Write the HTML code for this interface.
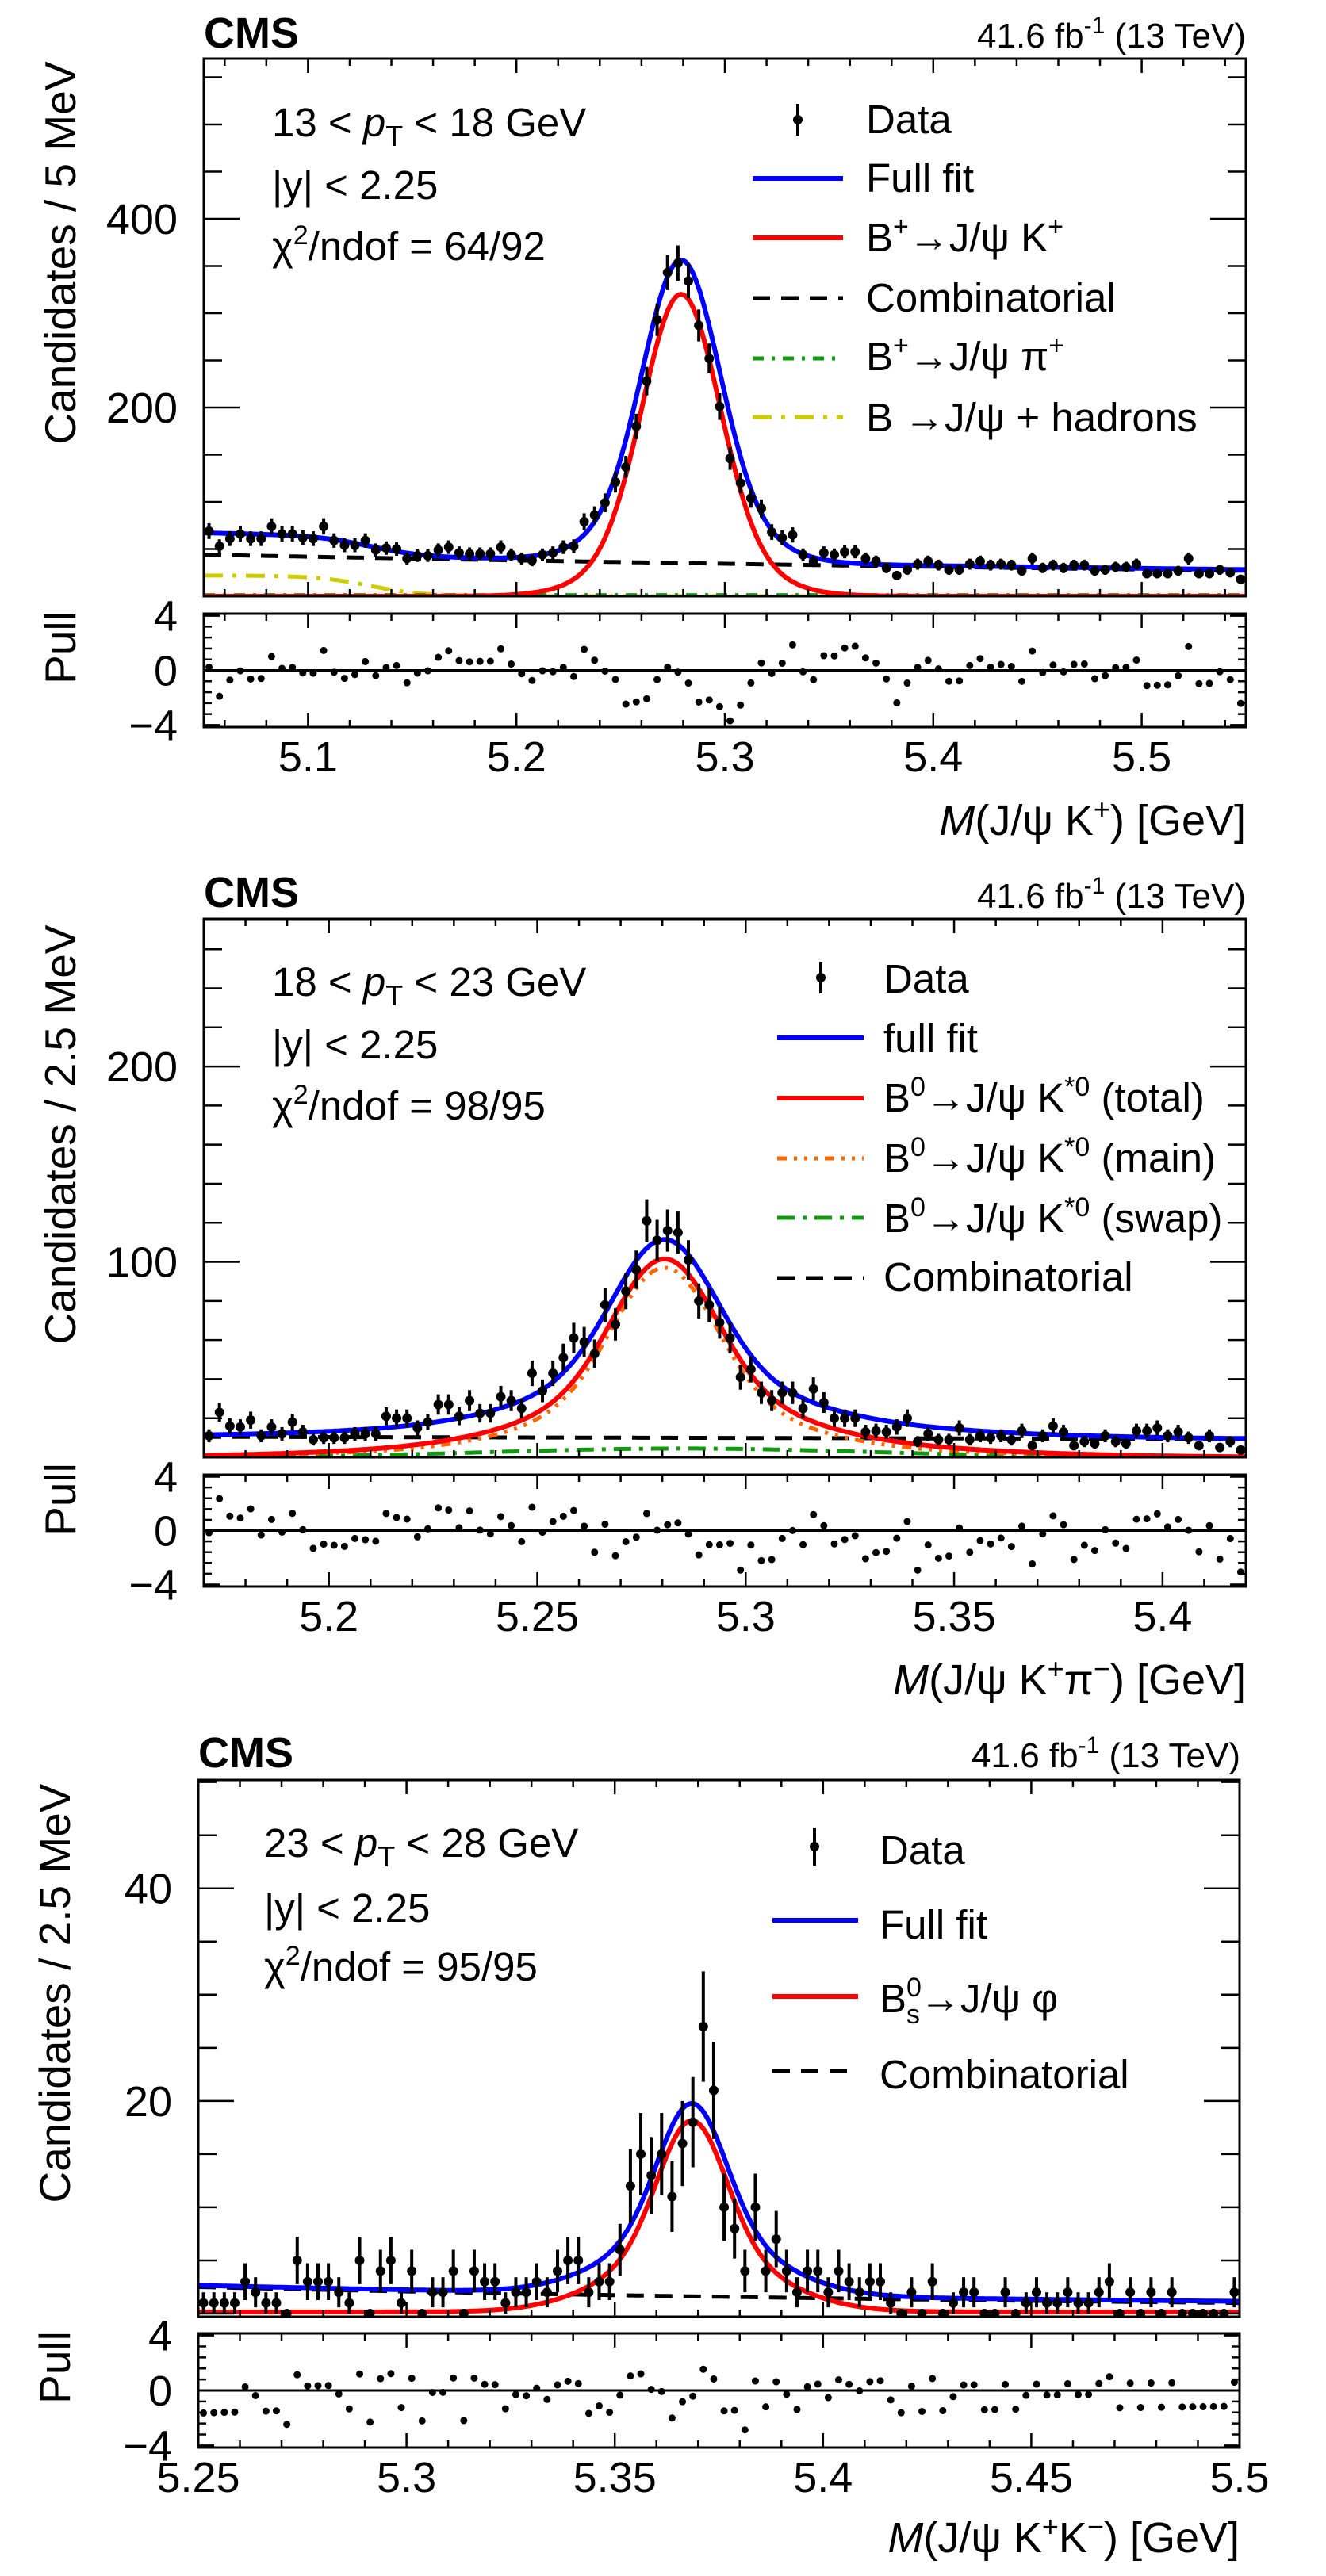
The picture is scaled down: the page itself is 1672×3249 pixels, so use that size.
<!DOCTYPE html>
<html><head><meta charset="utf-8"><title>CMS mass fits</title>
<style>
html,body{margin:0;padding:0;background:#fff;}
svg{display:block;font-family:"Liberation Sans",sans-serif;}
</style></head>
<body>
<svg id="fig" width="1672" height="3249" viewBox="0 0 1672 3249" xmlns="http://www.w3.org/2000/svg">
<rect x="0" y="0" width="1672" height="3249" fill="#fff"/>

<!-- ===== Panel 1 static text ===== -->
<g fill="#000">
  <text x="257" y="60" font-size="54" font-weight="bold">CMS</text>
  <text x="1571" y="60" font-size="44" text-anchor="end">41.6 fb<tspan dy="-18" font-size="30">-1</tspan><tspan dy="18"> (13 TeV)</tspan></text>
  <text x="343" y="172" font-size="51">13 &lt; <tspan font-style="italic">p</tspan><tspan dy="12" font-size="36">T</tspan><tspan dy="-12"> &lt; 18 GeV</tspan></text>
  <text x="343" y="251" font-size="51">|y| &lt; 2.25</text>
  <text x="343" y="328" font-size="51">χ<tspan dy="-20" font-size="34">2</tspan><tspan dy="20">/ndof = 64/92</tspan></text>
  <text transform="translate(95,319) rotate(-90)" font-size="55" text-anchor="middle">Candidates / 5 MeV</text>
  <text transform="translate(95,817) rotate(-90)" font-size="55" text-anchor="middle">Pull</text>
  <text x="1571" y="1053" font-size="54" text-anchor="end"><tspan font-style="italic">M</tspan>(J/ψ K<tspan dy="-20" font-size="36">+</tspan><tspan dy="20">) [GeV]</tspan></text>
  <g>
    <g><line x1="1006" y1="131" x2="1006" y2="171" stroke="#000" stroke-width="4"/><circle cx="1006" cy="151" r="6"/><text x="1092" y="168" font-size="51">Data</text></g>
    <g><line x1="949" y1="225" x2="1063" y2="225" stroke="#0000ff" stroke-width="6"/><text x="1092" y="242" font-size="51">Full fit</text></g>
    <g><line x1="949" y1="300" x2="1063" y2="300" stroke="#ff0000" stroke-width="6"/><text x="1092" y="317" font-size="51">B<tspan dy="-20" font-size="34">+</tspan><tspan dy="20">→J/ψ K</tspan><tspan dy="-20" font-size="34">+</tspan></text></g>
    <g><line x1="949" y1="376" x2="1063" y2="376" stroke="#000" stroke-width="5" stroke-dasharray="22 14"/><text x="1092" y="393" font-size="51">Combinatorial</text></g>
    <g><line x1="949" y1="452" x2="1063" y2="452" stroke="#119911" stroke-width="5" stroke-dasharray="14 10 4 10"/><text x="1092" y="467" font-size="51">B<tspan dy="-20" font-size="34">+</tspan><tspan dy="20">→J/ψ π</tspan><tspan dy="-20" font-size="34">+</tspan></text></g>
    <g><line x1="949" y1="526" x2="1063" y2="526" stroke="#cccc00" stroke-width="5" stroke-dasharray="24 12 5 12"/><text x="1092" y="544" font-size="51">B  →J/ψ + hadrons</text></g>
  </g>
</g>

<!-- ===== Panel 2 static text ===== -->
<g fill="#000">
  <text x="257" y="1144" font-size="54" font-weight="bold">CMS</text>
  <text x="1571" y="1145" font-size="44" text-anchor="end">41.6 fb<tspan dy="-18" font-size="30">-1</tspan><tspan dy="18"> (13 TeV)</tspan></text>
  <text x="343" y="1256" font-size="51">18 &lt; <tspan font-style="italic">p</tspan><tspan dy="12" font-size="36">T</tspan><tspan dy="-12"> &lt; 23 GeV</tspan></text>
  <text x="343" y="1335" font-size="51">|y| &lt; 2.25</text>
  <text x="343" y="1412" font-size="51">χ<tspan dy="-20" font-size="34">2</tspan><tspan dy="20">/ndof = 98/95</tspan></text>
  <text transform="translate(95,1431) rotate(-90)" font-size="55" text-anchor="middle">Candidates / 2.5 MeV</text>
  <text transform="translate(95,1891) rotate(-90)" font-size="55" text-anchor="middle">Pull</text>
  <text x="1571" y="2137" font-size="54" text-anchor="end"><tspan font-style="italic">M</tspan>(J/ψ K<tspan dy="-20" font-size="36">+</tspan><tspan dy="20">π</tspan><tspan dy="-20" font-size="36">−</tspan><tspan dy="20">) [GeV]</tspan></text>
  <g>
    <g><line x1="1035" y1="1213" x2="1035" y2="1253" stroke="#000" stroke-width="4"/><circle cx="1035" cy="1233" r="6"/><text x="1114" y="1252" font-size="51">Data</text></g>
    <g><line x1="980" y1="1309" x2="1089" y2="1309" stroke="#0000ff" stroke-width="6"/><text x="1114" y="1327" font-size="51">full fit</text></g>
    <g><line x1="980" y1="1385" x2="1089" y2="1385" stroke="#ff0000" stroke-width="6"/><text x="1114" y="1402" font-size="51">B<tspan dy="-20" font-size="34">0</tspan><tspan dy="20">→J/ψ K</tspan><tspan dy="-20" font-size="34">*0</tspan><tspan dy="20"> (total)</tspan></text></g>
    <g><line x1="980" y1="1461" x2="1089" y2="1461" stroke="#ff6600" stroke-width="5" stroke-dasharray="12 9 4 9 4 9 4 9"/><text x="1114" y="1478" font-size="51">B<tspan dy="-20" font-size="34">0</tspan><tspan dy="20">→J/ψ K</tspan><tspan dy="-20" font-size="34">*0</tspan><tspan dy="20"> (main)</tspan></text></g>
    <g><line x1="980" y1="1536" x2="1089" y2="1536" stroke="#119911" stroke-width="5" stroke-dasharray="22 10 5 10"/><text x="1114" y="1554" font-size="51">B<tspan dy="-20" font-size="34">0</tspan><tspan dy="20">→J/ψ K</tspan><tspan dy="-20" font-size="34">*0</tspan><tspan dy="20"> (swap)</tspan></text></g>
    <g><line x1="980" y1="1612" x2="1089" y2="1612" stroke="#000" stroke-width="5" stroke-dasharray="22 14"/><text x="1114" y="1628" font-size="51">Combinatorial</text></g>
  </g>
</g>

<!-- ===== Panel 3 static text ===== -->
<g fill="#000">
  <text x="250" y="2229" font-size="54" font-weight="bold">CMS</text>
  <text x="1564" y="2229" font-size="44" text-anchor="end">41.6 fb<tspan dy="-18" font-size="30">-1</tspan><tspan dy="18"> (13 TeV)</tspan></text>
  <text x="333" y="2342" font-size="51">23 &lt; <tspan font-style="italic">p</tspan><tspan dy="12" font-size="36">T</tspan><tspan dy="-12"> &lt; 28 GeV</tspan></text>
  <text x="333" y="2424" font-size="51">|y| &lt; 2.25</text>
  <text x="333" y="2498" font-size="51">χ<tspan dy="-20" font-size="34">2</tspan><tspan dy="20">/ndof = 95/95</tspan></text>
  <text transform="translate(88,2514) rotate(-90)" font-size="55" text-anchor="middle">Candidates / 2.5 MeV</text>
  <text transform="translate(88,2986) rotate(-90)" font-size="55" text-anchor="middle">Pull</text>
  <text x="1563" y="3219" font-size="54" text-anchor="end"><tspan font-style="italic">M</tspan>(J/ψ K<tspan dy="-20" font-size="36">+</tspan><tspan dy="20">K</tspan><tspan dy="-20" font-size="36">−</tspan><tspan dy="20">) [GeV]</tspan></text>
  <g>
    <g><line x1="1027" y1="2305" x2="1027" y2="2353" stroke="#000" stroke-width="4"/><circle cx="1027" cy="2329" r="6"/><text x="1109" y="2351" font-size="51">Data</text></g>
    <g><line x1="974" y1="2422" x2="1082" y2="2422" stroke="#0000ff" stroke-width="6"/><text x="1109" y="2445" font-size="51">Full fit</text></g>
    <g><line x1="974" y1="2518" x2="1082" y2="2518" stroke="#ff0000" stroke-width="6"/><text x="1109" y="2538" font-size="51">B<tspan dy="-20" font-size="34">0</tspan><tspan dx="-19" dy="34" font-size="34">s</tspan><tspan dy="-14">→J/ψ φ</tspan></text></g>
    <g><line x1="974" y1="2612" x2="1082" y2="2612" stroke="#000" stroke-width="5" stroke-dasharray="22 14"/><text x="1109" y="2634" font-size="51">Combinatorial</text></g>
  </g>
</g>

<g id="plots"></g>
</svg>

<script>
// ---------- Data (candidate counts per bin) ----------
const p1Counts = [69,53,61,66,61,61,74,66,66,62, 61,74,59,54,54,59,49,51,50,40,
  43,43,49,52,46,45,45,45,52,44, 40,38,44,46,52,53,79,86,99,121,
  137,180,228,293,343,353,334,287,252,201, 146,120,104,93,68,62,65,44,37,46,
  44,47,47,40,37,30,22,28,34,37, 33,28,28,34,37,33,34,33,27,40,
  30,33,30,33,33,27,28,31,31,34, 24,24,24,27,40,24,24,28,25,18];
const p2Counts = [11,23,16,15.5,19,11,15.5,12,18,13, 9,10,10,10,12,12,12,21,20,20,
  15,18,27,27,21,29,22.5,22.5,31,29, 25,43,34,43,51,61,59,53,78,68,
  85,96,121,111,116,115,101,80,78,69, 61,41,45,33,29,33,33,25,35,28,
  20,20,20,13,13.5,13,15.5,20,8,12, 9,9,15,9,11,10,11,9,13.5,6,
  11,16,13,6,8,7,11,8,7,13.5, 13.5,15,11,13,10,6,11,5,8,3.7];
const p3Counts = [1,1,1,1,3,2,1,1,0,5, 3,3,3,2,1,5,0,4,5,1,
  4,0,2,2,4,0,4,3,3,1, 2,2,3,2,4,5,5,2,3,3,
  6,12,15,13,15,11,16,18,27,21, 10,8,4,10,4,7,4,2,4,4,
  2,4,3,2,3,3,1,0,2,0, 3,0,1,2,2,0,0,2,0,1,
  2,1,1,2,1,1,2,3,0,2, 0,2,0,2,0,0,0,0,0,2];

// ---------- Fit model parameters ----------
const p1CombParams = [44, 0.977];
const p1HadParams = [22, 5.13, 0.013];
const p1PiParams = [1.2];
const p1SigParams = [5.279, 260, 0.018, 60, 0.03];
const p2CombParams = [10.5, 4.8];
const p2SwapParams = [4.5, 5.285, 0.045];
const p2MainParams = [5.2805, 66, 0.012, 25, 0.025, 6, 0.055];
const p3CombParams = [2.5, 3.67];
const p3SigParams = [5.3685, 12, 0.008, 6, 0.018];

// ---------- Axis ticks / labels ----------
const p1XTicks = ["5.1","5.2","5.3","5.4","5.5"];
const p2XTicks = ["5.2","5.25","5.3","5.35","5.4"];
const p3XTicks = ["5.25","5.3","5.35","5.4","5.45","5.5"];
const p1YTicks = ["200","400"];
const p2YTicks = ["100","200"];
const p3YTicks = ["20","40"];
const pullTicks = ["4","0","-4"];

const G = (x, m, s) => Math.exp(-(x - m) * (x - m) / (2 * s * s));
const NS = "http://www.w3.org/2000/svg";
function mk(tag, attrs, parent) {
  const e = document.createElementNS(NS, tag);
  for (const k in attrs) e.setAttribute(k, attrs[k]);
  if (parent) parent.appendChild(e);
  return e;
}

const p1Comb = x => p1CombParams[0] * Math.exp(-p1CombParams[1] * (x - 5.05));
const p1Had = x => p1HadParams[0] / (1 + Math.exp((x - p1HadParams[1]) / p1HadParams[2]));
const p1Pi = x => p1PiParams[0];
const p1Sig = x => p1SigParams[1] * G(x, p1SigParams[0], p1SigParams[2]) + p1SigParams[3] * G(x, p1SigParams[0], p1SigParams[4]);
const p1Full = x => p1Comb(x) + p1Had(x) + p1Pi(x) + p1Sig(x);

const p2Comb = x => p2CombParams[0] - p2CombParams[1] * (x - 5.17);
const p2Swap = x => p2SwapParams[0] * G(x, p2SwapParams[1], p2SwapParams[2]);
const p2Main = x => p2MainParams[1] * G(x, p2MainParams[0], p2MainParams[2]) + p2MainParams[3] * G(x, p2MainParams[0], p2MainParams[4]) + p2MainParams[5] * G(x, p2MainParams[0], p2MainParams[6]);
const p2Total = x => p2Main(x) + p2Swap(x);
const p2Full = x => p2Total(x) + p2Comb(x);

const p3Comb = x => p3CombParams[0] * Math.exp(-p3CombParams[1] * (x - 5.25));
const p3Sig = x => p3SigParams[1] * G(x, p3SigParams[0], p3SigParams[2]) + p3SigParams[3] * G(x, p3SigParams[0], p3SigParams[4]) + 0.15;
const p3Full = x => p3Comb(x) + p3Sig(x);

const panels = [
  { id: 1, L: 257, R: 1571, T: 74, B: 752, PT: 774, PB: 917, xmin: 5.05, xmax: 5.55, ymin: 0, ymax: 569.7,
    counts: p1Counts, full: p1Full, xTicks: p1XTicks, xMinor: 0.02, yTicks: p1YTicks, yMinor: 50, yLabX: 224,
    comps: [
      { name: "hadrons-curve", fn: p1Had, color: "#cccc00", w: 5, dash: "24 12 5 12" },
      { name: "jpsi-pi-curve", fn: p1Pi, color: "#119911", w: 5, dash: "14 10 4 10" },
      { name: "combinatorial-curve", fn: p1Comb, color: "#000", w: 5, dash: "22 14" },
      { name: "signal-curve", fn: p1Sig, color: "#ff0000", w: 6, dash: "" },
      { name: "full-fit-curve", fn: p1Full, color: "#0000ff", w: 6, dash: "" } ] },
  { id: 2, L: 257, R: 1571, T: 1159, B: 1838, PT: 1860, PB: 2001, xmin: 5.17, xmax: 5.42, ymin: 0, ymax: 275.5,
    counts: p2Counts, full: p2Full, xTicks: p2XTicks, xMinor: 0.01, yTicks: p2YTicks, yMinor: 20, yLabX: 224,
    comps: [
      { name: "swap-curve", fn: p2Swap, color: "#119911", w: 5, dash: "22 10 5 10" },
      { name: "combinatorial-curve", fn: p2Comb, color: "#000", w: 5, dash: "22 14" },
      { name: "main-curve", fn: p2Main, color: "#ff6600", w: 5, dash: "12 9 4 9 4 9 4 9" },
      { name: "total-curve", fn: p2Total, color: "#ff0000", w: 6, dash: "" },
      { name: "full-fit-curve", fn: p2Full, color: "#0000ff", w: 6, dash: "" } ] },
  { id: 3, L: 250, R: 1563, T: 2245, B: 2922, PT: 2943, PB: 3087, xmin: 5.25, xmax: 5.5, ymin: -0.3, ymax: 50.2,
    counts: p3Counts, full: p3Full, xTicks: p3XTicks, xMinor: 0.01, yTicks: p3YTicks, yMinor: 5, yLabX: 217,
    comps: [
      { name: "combinatorial-curve", fn: p3Comb, color: "#000", w: 5, dash: "22 14" },
      { name: "signal-curve", fn: p3Sig, color: "#ff0000", w: 6, dash: "" },
      { name: "full-fit-curve", fn: p3Full, color: "#0000ff", w: 6, dash: "" } ] }
];

const root = document.getElementById("plots");
const PULL_LIM = 4.15;

panels.forEach(p => {
  const g = mk("g", {}, root);
  
  
  const n = p.counts.length;
  const bw = (p.xmax - p.xmin) / n;
  const sx = x => p.L + (x - p.xmin) / (p.xmax - p.xmin) * (p.R - p.L);
  const sy = y => p.B - (y - p.ymin) / (p.ymax - p.ymin) * (p.B - p.T);
  const pc = (p.PT + p.PB) / 2, ph = (p.PB - p.PT) / 2;
  const spy = v => pc - v / PULL_LIM * ph;

  const defs = mk("defs", {}, g);
  const cp = mk("clipPath", { id: "clipM" + p.id }, defs);
  mk("rect", { x: p.L, y: p.T, width: p.R - p.L, height: p.B - p.T }, cp);
  const cpp = mk("clipPath", { id: "clipP" + p.id }, defs);
  mk("rect", { x: p.L, y: p.PT, width: p.R - p.L, height: p.PB - p.PT }, cpp);

  const cg = mk("g", { "clip-path": "url(#clipM" + p.id + ")" }, g);
  p.comps.forEach(c => {
    let d = "";
    const N = 500;
    for (let k = 0; k <= N; k++) {
      const x = p.xmin + (p.xmax - p.xmin) * k / N;
      d += (k ? "L" : "M") + sx(x).toFixed(1) + "," + sy(c.fn(x)).toFixed(1);
    }
    const path = mk("path", { d: d, fill: "none", stroke: c.color, "stroke-width": c.w, "stroke-dasharray": c.dash }, cg);
    
    
  });

  const dg = mk("g", { "clip-path": "url(#clipM" + p.id + ")" }, g);
  
  
  p.counts.forEach((v, i) => {
    const xc = p.xmin + (i + 0.5) * bw;
    const e = Math.sqrt(v);
    if (v > 0) mk("line", { x1: sx(xc), x2: sx(xc), y1: sy(v - e), y2: sy(v + e), stroke: "#000", "stroke-width": 4 }, dg);
    const c = mk("circle", { cx: sx(xc), cy: sy(v), r: 6, fill: "#000" }, dg);
    
    
  });

  const pg = mk("g", { "clip-path": "url(#clipP" + p.id + ")" }, g);
  
  
  mk("line", { x1: p.L, x2: p.R, y1: spy(0), y2: spy(0), stroke: "#000", "stroke-width": 3 }, pg);
  p.counts.forEach((v, i) => {
    const xc = p.xmin + (i + 0.5) * bw;
    const f = p.full(xc);
    const pull = (v - f) / Math.sqrt(Math.max(v, 1));
    const c = mk("circle", { cx: sx(xc), cy: spy(pull), r: 4.5, fill: "#000" }, pg);
    
    
  });

  const fr = mk("rect", { x: p.L, y: p.T, width: p.R - p.L, height: p.B - p.T, fill: "none", stroke: "#000", "stroke-width": 3 }, g);
  
  
  const pf = mk("rect", { x: p.L, y: p.PT, width: p.R - p.L, height: p.PB - p.PT, fill: "none", stroke: "#000", "stroke-width": 3 }, g);
  
  

  const tg = mk("g", { stroke: "#000", "stroke-width": 2.5 }, g);
  
  
  const majorVals = p.xTicks.map(Number);
  for (let x = Math.ceil(p.xmin / p.xMinor - 1e-6) * p.xMinor; x <= p.xmax + 1e-9; x += p.xMinor) {
    const X = sx(x);
    const isMaj = majorVals.some(m => Math.abs(m - x) < 1e-6);
    const len = isMaj ? 18 : 9;
    mk("line", { x1: X, x2: X, y1: p.B, y2: p.B - len }, tg);
    mk("line", { x1: X, x2: X, y1: p.T, y2: p.T + len }, tg);
    mk("line", { x1: X, x2: X, y1: p.PB, y2: p.PB - len }, tg);
    mk("line", { x1: X, x2: X, y1: p.PT, y2: p.PT + len }, tg);
  }
  const yMaj = p.yTicks.map(Number);
  for (let y = 0; y <= p.ymax; y += p.yMinor) {
    if (y < p.ymin) continue;
    const Y = sy(y);
    const isMaj = yMaj.some(m => Math.abs(m - y) < 1e-6) || y === 0;
    const len = isMaj ? 45 : 23;
    mk("line", { x1: p.L, x2: p.L + len, y1: Y, y2: Y }, tg);
    mk("line", { x1: p.R, x2: p.R - len, y1: Y, y2: Y }, tg);
  }
  for (let v = -4; v <= 4.001; v += 0.8) {
    const Y = spy(v);
    const isMaj = Math.abs(v) < 1e-6 || Math.abs(Math.abs(v) - 4) < 1e-6;
    const len = isMaj ? 20 : 10;
    mk("line", { x1: p.L, x2: p.L + len, y1: Y, y2: Y }, tg);
    mk("line", { x1: p.R, x2: p.R - len, y1: Y, y2: Y }, tg);
  }

  const lg = mk("g", { "font-size": 54, fill: "#000" }, g);
  
  
  p.xTicks.forEach(t => {
    const tx = mk("text", { x: sx(Number(t)), y: p.PB + 56, "text-anchor": "middle" }, lg);
    tx.textContent = t;
    
    
  });
  p.yTicks.forEach(t => {
    const ty = mk("text", { x: p.yLabX, y: sy(Number(t)) + 19, "text-anchor": "end" }, lg);
    ty.textContent = t;
    
    
  });
  pullTicks.forEach(t => {
    const tp = mk("text", { x: p.yLabX, y: spy(Number(t)) + 19, "text-anchor": "end" }, lg);
    tp.textContent = t.replace("-", "\u2212");
    
    
  });
});
</script>
</body></html>
